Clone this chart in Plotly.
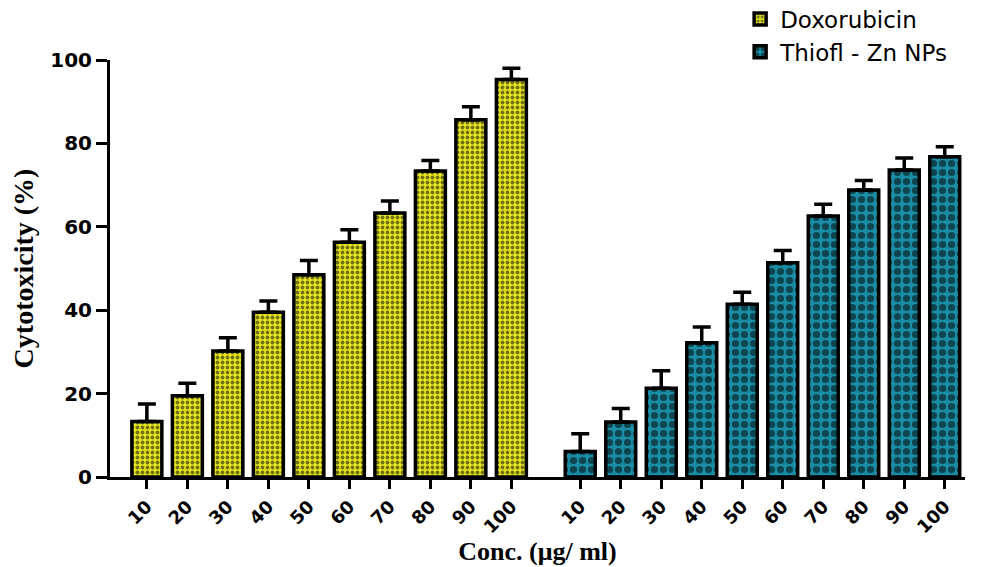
import plotly.graph_objects as go

conc_labels = ["10", "20", "30", "40", "50", "60", "70", "80", "90", "100"]
dox_vals = [13.3, 19.5, 30.2, 39.5, 48.5, 56.3, 63.3, 73.4, 85.7, 95.3]
dox_err = [4.2, 3.0, 3.2, 2.7, 3.4, 3.0, 2.9, 2.5, 3.1, 2.7]
zn_vals = [6.1, 13.2, 21.3, 32.2, 41.4, 51.4, 62.6, 68.8, 73.6, 76.8]
zn_err = [4.3, 3.2, 4.2, 3.8, 2.9, 2.9, 2.8, 2.3, 2.9, 2.4]

group_gap = 1.7
pos_dox = [i for i in range(len(conc_labels))]
pos_zn = [len(conc_labels) - 1 + group_gap + i for i in range(len(conc_labels))]

fig = go.Figure()
fig.add_trace(go.Bar(
    x=pos_dox, y=dox_vals, name="Doxorubicin", width=0.74,
    marker=dict(color="#e6e621", line=dict(color="black", width=3.5),
                pattern=dict(shape=".", fgcolor="black", bgcolor="#e6e621", size=5, solidity=0.45)),
    error_y=dict(type="data", symmetric=False, array=dox_err, arrayminus=[0]*10,
                 color="black", thickness=3.5, width=9),
))
fig.add_trace(go.Bar(
    x=pos_zn, y=zn_vals, name="Thiofl - Zn NPs", width=0.74,
    marker=dict(color="#1a8ca3", line=dict(color="black", width=3.5),
                pattern=dict(shape=".", fgcolor="black", bgcolor="#1a8ca3", size=9, solidity=0.5)),
    error_y=dict(type="data", symmetric=False, array=zn_err, arrayminus=[0]*10,
                 color="black", thickness=3.5, width=9),
))

fig.update_layout(
    width=985, height=567,
    margin=dict(l=102, r=28, t=52, b=98, autoexpand=False),
    plot_bgcolor="white", paper_bgcolor="white",
    showlegend=True,
    legend=dict(x=0.737, y=1.15, xanchor="left", yanchor="top",
                font=dict(family="DejaVu Sans", size=23, color="black"),
                bgcolor="rgba(0,0,0,0)", tracegroupgap=0),
)
fig.update_xaxes(
    range=[-0.91, 20.2],
    tickvals=pos_dox + pos_zn, ticktext=conc_labels + conc_labels,
    tickangle=-45, ticks="outside", ticklen=9, tickwidth=3, tickcolor="black",
    tickfont=dict(family="DejaVu Sans", size=18, color="black", weight="bold"),
    showline=True, linecolor="black", linewidth=3, showgrid=False, zeroline=False,
    title=dict(text="Conc. (μg/ ml)", standoff=2,
               font=dict(family="Liberation Serif, Times New Roman", size=26, color="black", weight="bold")),
)
fig.update_yaxes(
    range=[0, 100], tickvals=[0, 20, 40, 60, 80, 100],
    ticks="outside", ticklen=11, tickwidth=3, tickcolor="black",
    tickfont=dict(family="DejaVu Sans", size=20, color="black", weight="bold"),
    showline=True, linecolor="black", linewidth=3, showgrid=False, zeroline=False,
    title=dict(text="Cytotoxicity (%)", standoff=14,
               font=dict(family="Liberation Serif, Times New Roman", size=28, color="black", weight="bold")),
)

fig.write_html("out.html")
